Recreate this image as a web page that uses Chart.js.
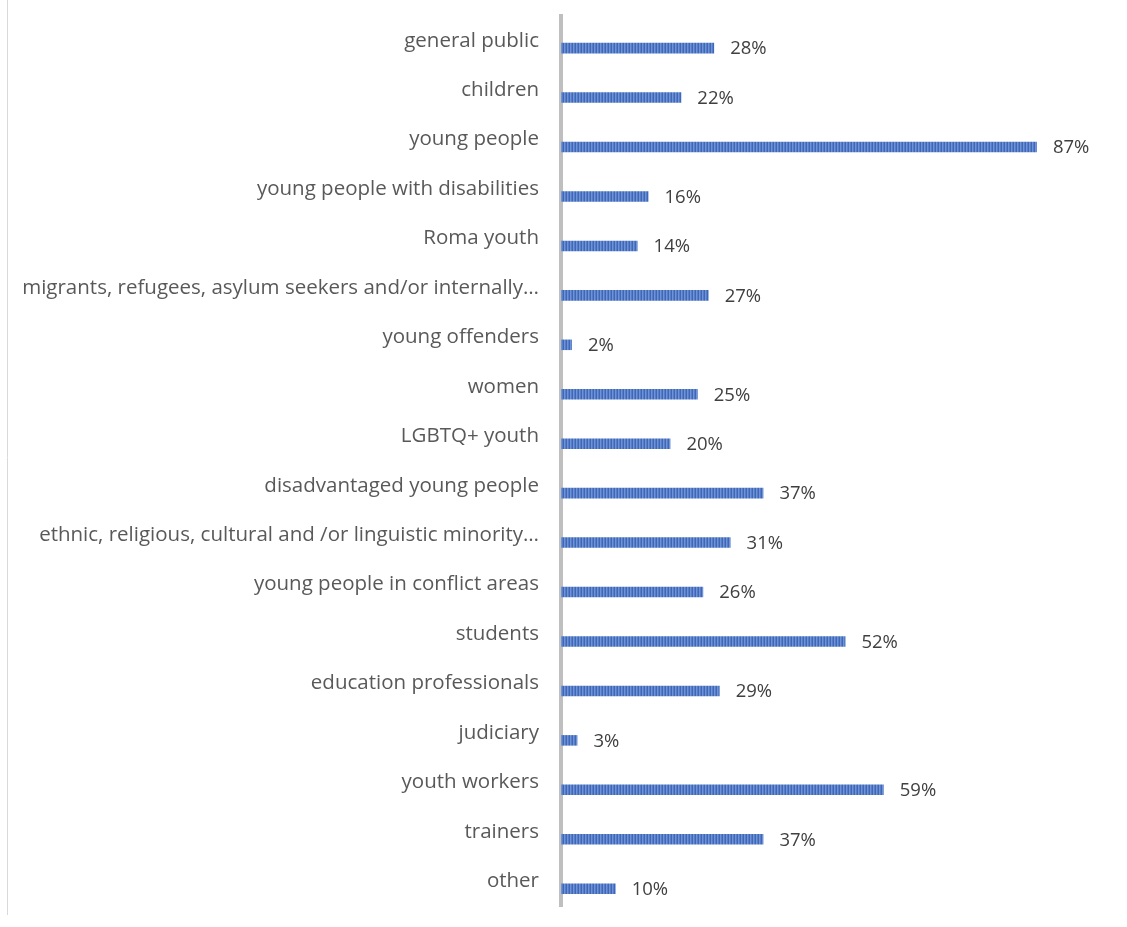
<!DOCTYPE html>
<html>
<head>
<meta charset="utf-8">
<script src="https://cdn.jsdelivr.net/npm/chart.js@4/dist/chart.umd.min.js"></script>
<style>
  html, body { margin: 0; padding: 0; background: #ffffff; }
  #wrap { position: relative; width: 1127px; height: 927px; }
</style>
</head>
<body>
<div id="wrap"><canvas id="chart" width="1127" height="927"></canvas></div>
<script>
// Target groups reached, share of respondents (%)
const categories = [
  "general public",
  "children",
  "young people",
  "young people with disabilities",
  "Roma youth",
  "migrants, refugees, asylum seekers and/or internally\u2026",
  "young offenders",
  "women",
  "LGBTQ+ youth",
  "disadvantaged young people",
  "ethnic, religious, cultural and /or linguistic minority\u2026",
  "young people in conflict areas",
  "students",
  "education professionals",
  "judiciary",
  "youth workers",
  "trainers",
  "other"
];
const shares = [28, 22, 87, 16, 14, 27, 2, 25, 20, 37, 31, 26, 52, 29, 3, 59, 37, 10];
const placeholder = categories.map(() => null);

const FONT = "'Open Sans', 'Noto Sans', sans-serif";

// Vertical hatched fill for the bars
function stripePattern() {
  const c = document.createElement("canvas");
  c.width = 3; c.height = 4;
  const g = c.getContext("2d");
  g.fillStyle = "#567dca";
  g.fillRect(0, 0, 3, 4);
  g.fillStyle = "#3f67b3";
  g.fillRect(2, 0, 1, 4);
  g.fillStyle = "#6f93d6";
  g.fillRect(0, 0, 1, 4);
  return g.createPattern(c, "repeat");
}

const valueLabels = {
  id: "valueLabels",
  afterDatasetsDraw(chart) {
    const ctx = chart.ctx;
    const meta = chart.getDatasetMeta(1);
    ctx.save();
    ctx.font = "18.5px " + FONT;
    ctx.fillStyle = "#404040";
    ctx.textAlign = "left";
    ctx.textBaseline = "middle";
    meta.data.forEach((bar, i) => {
      ctx.fillText(shares[i] + "%", bar.x + 16, bar.y + 1);
    });
    ctx.restore();
  }
};

const frameLine = {
  id: "frameLine",
  beforeDraw(chart) {
    const ctx = chart.ctx;
    ctx.save();
    ctx.strokeStyle = "#d9d9d9";
    ctx.lineWidth = 1;
    ctx.beginPath();
    ctx.moveTo(7.5, 0);
    ctx.lineTo(7.5, 915);
    ctx.stroke();
    ctx.restore();
  }
};

new Chart(document.getElementById("chart"), {
  type: "bar",
  data: {
    labels: categories,
    datasets: [
      { data: placeholder, backgroundColor: "rgba(0,0,0,0)" },
      { data: shares, backgroundColor: stripePattern(), borderWidth: 0 }
    ]
  },
  options: {
    indexAxis: "y",
    responsive: false,
    animation: false,
    events: [],
    layout: { padding: { top: 16, bottom: 21, right: 19, left: 0 } },
    datasets: { bar: { categoryPercentage: 0.6, barPercentage: 0.71 } },
    plugins: { legend: { display: false }, tooltip: { enabled: false } },
    scales: {
      x: { display: false, min: 0, max: 100 },
      y: {
        grid: { display: false, drawTicks: false },
        border: { display: true, color: "#bfbfbf", width: 4 },
        ticks: {
          color: "#595959",
          padding: 22,
          font: { family: FONT, size: 20.5 }
        },
        afterFit(scale) {
          scale.width = 561;
          scale.paddingTop = 0;
          scale.paddingBottom = 0;
        }
      }
    }
  },
  plugins: [valueLabels, frameLine]
});
</script>
</body>
</html>
